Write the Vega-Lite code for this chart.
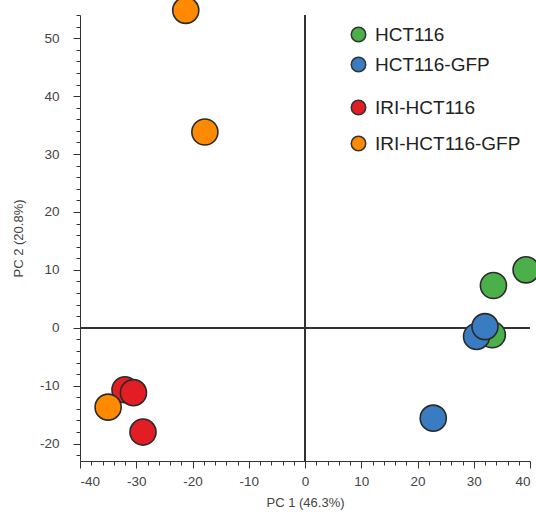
{
  "$schema": "https://vega.github.io/schema/vega-lite/v6.json",
  "width": 450,
  "height": 446,
  "autosize": {"type": "none"},
  "padding": {"left": 80, "top": 15, "right": 6, "bottom": 53},
  "background": "white",
  "config": {
    "view": {"stroke": null},
    "font": "Liberation Sans",
    "axis": {
      "labelFont": "Liberation Sans",
      "labelFontSize": 13.5,
      "labelColor": "#444",
      "titleFont": "Liberation Sans",
      "titleFontSize": 13,
      "titleFontWeight": "normal",
      "titleColor": "#444",
      "domainColor": "#333",
      "tickColor": "#333",
      "grid": false
    }
  },
  "data": {
    "values": [
      {"group": "HCT116", "x": 39.3, "y": 10.0},
      {"group": "HCT116", "x": 33.5, "y": 7.3},
      {"group": "HCT116", "x": 33.3, "y": -1.2},
      {"group": "HCT116-GFP", "x": 30.5, "y": -1.5},
      {"group": "HCT116-GFP", "x": 32.0, "y": 0.2},
      {"group": "HCT116-GFP", "x": 22.8, "y": -15.6},
      {"group": "IRI-HCT116", "x": -32.0, "y": -10.7},
      {"group": "IRI-HCT116", "x": -30.5, "y": -11.2},
      {"group": "IRI-HCT116", "x": -28.8, "y": -18.0},
      {"group": "IRI-HCT116-GFP", "x": -35.0, "y": -13.7},
      {"group": "IRI-HCT116-GFP", "x": -21.2, "y": 54.8},
      {"group": "IRI-HCT116-GFP", "x": -17.8, "y": 33.8}
    ]
  },
  "layer": [
    {
      "mark": {"type": "point", "opacity": 0},
      "encoding": {
        "x": {"field": "x", "type": "quantitative",
              "scale": {"domain": [-40, 40], "nice": false, "zero": false},
              "axis": {"orient": "bottom", "values": [-38,-36,-34,-32,-28,-26,-24,-22,-18,-16,-14,-12,-8,-6,-4,-2,2,4,6,8,12,14,16,18,22,24,26,28,32,34,36,38],
                       "labels": false, "tickSize": 4, "domain": false, "title": null}},
        "y": {"field": "y", "type": "quantitative",
              "scale": {"domain": [-23, 54], "nice": false, "zero": false},
              "axis": {"orient": "left", "values": [-22,-18,-16,-14,-12,-8,-6,-4,-2,2,4,6,8,12,14,16,18,22,24,26,28,32,34,36,38,42,44,46,48,52,54],
                       "labels": false, "tickSize": 4, "domain": false, "title": null}}
      }
    },
    {
      "mark": {"type": "rule", "color": "#333", "strokeWidth": 1.2},
      "encoding": {"y": {"datum": 0, "type": "quantitative", "axis": null}}
    },
    {
      "mark": {"type": "rule", "color": "#333", "strokeWidth": 1.2},
      "encoding": {"x": {"datum": 0, "type": "quantitative", "axis": null}}
    },
    {
      "transform": [{"filter": {"field": "group", "oneOf": ["HCT116", "HCT116-GFP"]}}],
      "mark": {"type": "point", "filled": true, "size": 680, "stroke": "#2b2b2b", "strokeWidth": 1.6, "opacity": 1},
      "encoding": {
        "x": {"field": "x", "type": "quantitative",
              "axis": {"orient": "bottom", "values": [-40,-30,-20,-10,0,10,20,30,40], "labelExpr": "'' + datum.value", "tickSize": 7, "labelPadding": 6, "title": "PC 1 (46.3%)", "titlePadding": 9}},
        "y": {"field": "y", "type": "quantitative",
              "axis": {"orient": "left", "values": [-20,-10,0,10,20,30,40,50], "labelExpr": "'' + datum.value", "tickSize": 7, "labelPadding": 14, "title": "PC 2 (20.8%)", "titlePadding": 14}},
        "color": {"field": "group", "type": "nominal",
                  "scale": {"domain": ["HCT116", "HCT116-GFP"], "range": ["#4cb04a", "#3a7cc1"]},
                  "legend": {"orient": "none", "legendX": 269, "legendY": 10, "title": null,
                             "symbolType": "circle", "symbolSize": 210, "symbolStrokeColor": "#333", "symbolStrokeWidth": 1.5,
                             "labelFontSize": 19, "labelFont": "Liberation Sans", "labelColor": "#222", "labelOffset": 7,
                             "rowPadding": 9, "padding": 0}}
      }
    },
    {
      "transform": [{"filter": {"field": "group", "oneOf": ["IRI-HCT116", "IRI-HCT116-GFP"]}}],
      "mark": {"type": "point", "filled": true, "size": 680, "stroke": "#2b2b2b", "strokeWidth": 1.6, "opacity": 1},
      "encoding": {
        "x": {"field": "x", "type": "quantitative", "axis": null},
        "y": {"field": "y", "type": "quantitative", "axis": null},
        "color": {"field": "group", "type": "nominal",
                  "scale": {"domain": ["IRI-HCT116", "IRI-HCT116-GFP"], "range": ["#e21d24", "#ff8a00"]},
                  "legend": {"orient": "none", "legendX": 269, "legendY": 83, "title": null,
                             "symbolType": "circle", "symbolSize": 210, "symbolStrokeColor": "#333", "symbolStrokeWidth": 1.5,
                             "labelFontSize": 19, "labelFont": "Liberation Sans", "labelColor": "#222", "labelOffset": 7,
                             "rowPadding": 15, "padding": 0}}
      }
    }
  ],
  "resolve": {"scale": {"color": "independent"}, "axis": {"x": "independent", "y": "independent"}}
}
